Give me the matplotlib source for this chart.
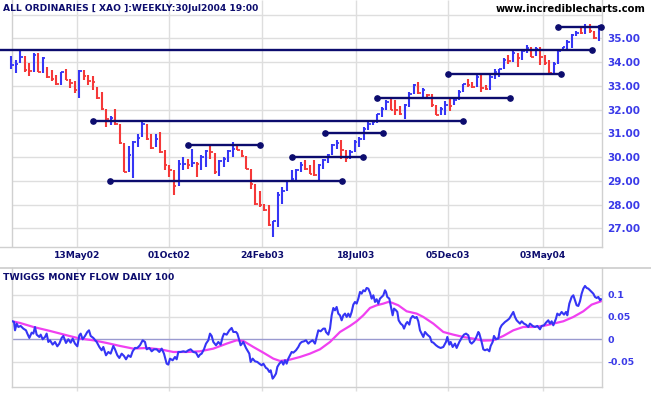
import numpy as np
import matplotlib
matplotlib.use("Agg")
import matplotlib.pyplot as plt
from matplotlib.lines import Line2D

# ---------------- data ----------------
high = [34.24, 34.10, 34.49, 34.24, 33.96, 34.37, 34.38, 34.20, 33.80, 33.68,
        33.44, 33.60, 33.72, 33.30, 33.20, 33.68, 33.65, 33.44, 33.40, 32.95,
        32.74, 32.04, 31.72, 32.04, 31.41, 30.59, 30.45, 30.66, 30.96, 31.48,
        31.38, 30.96, 30.98, 31.04, 30.28, 29.67, 29.44, 29.86, 30.00, 29.93,
        30.35, 29.79, 30.07, 30.28, 30.49, 30.17, 29.86, 30.00, 30.28, 30.63,
        30.56, 30.31, 30.03, 29.50, 28.87, 28.59, 28.03, 27.96, 27.32, 28.52,
        28.73, 29.00, 29.46, 29.50, 29.79, 29.86, 29.65, 29.86, 29.72, 29.93,
        30.14, 30.56, 30.73, 30.73, 30.28, 30.28, 30.70, 30.84, 31.27, 31.48,
        31.55, 31.83, 32.11, 32.39, 32.53, 32.39, 32.14, 32.25, 32.74, 33.07,
        33.17, 32.93, 32.67, 32.67, 32.18, 32.11, 32.35, 32.46, 32.53, 32.82,
        33.10, 33.31, 33.17, 33.52, 33.56, 33.03, 33.48, 33.73, 33.73, 34.18,
        34.32, 34.46, 34.37, 34.51, 34.72, 34.64, 34.66, 34.62, 34.29, 34.08,
        34.00, 34.53, 34.64, 34.92, 35.20, 35.30, 35.50, 35.60, 35.60, 35.30, 35.55]
low = [33.72, 33.54, 33.96, 33.58, 33.40, 33.58, 33.58, 33.55, 33.34, 33.20,
       33.05, 33.05, 33.26, 32.90, 32.71, 32.49, 33.23, 33.05, 32.84, 32.46,
       32.00, 31.27, 31.34, 31.35, 30.56, 29.36, 29.36, 29.10, 30.42, 30.84,
       30.73, 30.35, 30.42, 30.17, 29.44, 29.15, 28.42, 28.80, 29.44, 29.48,
       29.58, 29.15, 29.44, 29.60, 29.93, 29.30, 29.22, 29.58, 29.79, 30.00,
       30.28, 30.00, 29.50, 28.66, 27.96, 27.89, 27.74, 27.11, 26.65, 27.04,
       28.03, 28.59, 28.94, 28.98, 29.36, 29.44, 29.27, 29.22, 28.98, 29.50,
       29.76, 30.07, 30.35, 29.93, 29.79, 29.93, 30.21, 30.42, 30.70, 31.13,
       31.34, 31.43, 31.69, 32.00, 31.97, 31.76, 31.76, 31.62, 32.11, 32.67,
       32.64, 32.55, 32.46, 32.11, 31.76, 31.76, 31.76, 31.93, 32.18, 32.39,
       32.75, 32.96, 32.93, 32.96, 32.75, 32.82, 32.82, 33.31, 33.38, 33.73,
       33.94, 33.99, 33.80, 34.08, 34.37, 34.20, 34.25, 33.90, 33.90, 33.52,
       33.52, 33.94, 34.46, 34.57, 34.60, 35.10, 35.20, 35.20, 35.25, 34.96, 34.90]
close = [33.86, 33.93, 34.21, 33.65, 33.62, 34.30, 33.60, 34.18, 33.37, 33.30,
         33.06, 33.58, 33.26, 33.12, 32.81, 33.62, 33.41, 33.20, 33.15, 32.49,
         32.04, 31.62, 31.65, 31.40, 30.59, 29.39, 30.07, 30.63, 30.82, 31.38,
         30.76, 30.39, 30.77, 30.21, 29.65, 29.44, 28.80, 29.69, 29.72, 29.65,
         29.75, 29.70, 30.00, 30.25, 30.20, 29.39, 29.83, 29.93, 30.25, 30.35,
         30.30, 30.03, 29.50, 28.87, 28.03, 27.98, 27.77, 27.15, 27.29, 28.38,
         28.59, 28.98, 29.08, 29.44, 29.65, 29.50, 29.30, 29.25, 29.65, 29.86,
         30.07, 30.49, 30.59, 30.28, 29.97, 30.21, 30.63, 30.77, 31.20, 31.41,
         31.48, 31.80, 32.04, 32.32, 32.00, 31.98, 31.80, 32.18, 32.65, 33.03,
         32.70, 32.82, 32.63, 32.18, 31.76, 32.04, 32.18, 32.15, 32.39, 32.75,
         33.06, 33.03, 32.96, 33.38, 32.89, 32.85, 33.38, 33.59, 33.70, 34.08,
         34.04, 34.37, 34.18, 34.46, 34.60, 34.22, 34.55, 34.20, 33.98, 33.55,
         33.94, 34.46, 34.62, 34.83, 35.16, 35.25, 35.22, 35.50, 35.30, 35.00, 35.45]

date_labels = ["13May02", "01Oct02", "24Feb03", "18Jul03", "05Dec03", "03May04"]
date_pos = [14.5, 35.0, 55.5, 76.2, 96.7, 117.6]
price_ticks = [27, 28, 29, 30, 31, 32, 33, 34, 35]

# hand-drawn support / resistance lines (level, from bar, to bar)
sr_level = [34.5, 31.5, 29.0, 30.5, 30.0, 31.0, 32.5, 33.5, 35.5]
sr_start = [-2.5, 18.1, 21.8, 39.1, 62.1, 69.4, 80.9, 96.6, 120.9]
sr_end = [128.5, 99.9, 73.2, 55.0, 77.8, 82.2, 110.3, 121.6, 130.5]
sr_start_dot = [False, True, True, True, True, True, True, True, True]

# Twiggs money flow (position in weekly bars, value)
mf_x = [0.23, 0.60, 0.82, 1.19, 1.56, 2.07, 2.66, 3.25, 3.55, 3.99, 4.51, 4.88, 5.24, 5.61, 6.20,
        6.50, 6.94, 7.46, 7.82, 8.19, 8.56, 9.15, 9.67, 10.18, 10.63, 11.14, 11.51, 12.10, 12.62,
        13.13, 13.58, 14.09, 14.61, 15.05, 15.35, 15.79, 16.31, 16.82, 17.19, 17.56, 18.15, 18.89,
        19.48, 19.99, 20.36, 20.95, 21.47, 21.98, 22.57, 22.94, 23.46, 23.90, 24.42, 24.93, 25.38,
        25.89, 26.41, 26.85, 27.37, 27.88, 28.47, 29.06, 29.58, 29.95, 30.54, 31.06, 31.57, 32.16,
        32.75, 33.27, 33.78, 34.37, 34.74, 35.11, 35.70, 36.22, 36.59, 36.95, 37.47, 38.06, 38.65,
        39.17, 39.68, 40.27, 40.86, 41.38, 41.75, 42.12, 42.63, 43.08, 43.59, 43.96, 44.33, 44.70,
        45.29, 45.80, 46.32, 46.76, 47.06, 47.65, 48.24, 48.75, 49.12, 49.71, 50.01, 50.45, 50.74,
        51.33, 51.92, 52.22, 52.66, 52.96, 53.40, 53.92, 54.43, 54.88, 55.39, 55.76, 56.35, 56.65,
        57.09, 57.38, 57.82, 58.12, 58.56, 58.86, 59.30, 59.82, 60.19, 60.55, 60.92, 61.29, 61.66,
        62.03, 62.40, 62.99, 63.50, 63.87, 64.24, 64.76, 65.20, 65.72, 66.08, 66.67, 67.19, 67.56,
        67.93, 68.44, 69.03, 69.40, 69.62, 70.14, 70.51, 70.88, 71.25, 71.61, 71.98, 72.35, 72.72,
        73.09, 73.46, 73.83, 74.20, 74.56, 74.93, 75.30, 75.67, 76.04, 76.41, 76.78, 77.15, 77.51,
        77.88, 78.25, 78.62, 78.99, 79.36, 79.73, 80.10, 80.47, 80.83, 81.20, 81.57, 81.94, 82.31,
        82.68, 82.90, 83.19, 83.64, 83.93, 84.37, 84.67, 85.11, 85.41, 85.70, 86.15, 86.59, 86.89,
        87.33, 87.62, 88.06, 88.36, 88.80, 89.32, 89.68, 90.05, 90.42, 90.79, 91.16, 91.53, 92.04,
        92.63, 93.00, 93.37, 93.96, 94.48, 94.99, 95.58, 96.17, 96.47, 96.91, 97.21, 97.65, 98.17,
        98.53, 99.12, 99.64, 100.15, 100.60, 101.11, 101.48, 101.85, 102.37, 102.81, 103.33, 103.55,
        104.06, 104.43, 104.80, 105.32, 105.76, 106.06, 106.50, 106.79, 107.24, 107.75, 108.12,
        108.49, 108.86, 109.23, 109.74, 110.18, 110.70, 111.07, 111.44, 111.81, 112.18, 112.54,
        112.91, 113.43, 113.87, 114.39, 114.76, 115.35, 115.86, 116.38, 116.97, 117.34, 117.86,
        118.30, 118.81, 119.18, 119.55, 119.92, 120.51, 120.80, 121.25, 121.76, 122.28, 122.72,
        123.02, 123.46, 123.98, 124.35, 124.71, 125.08, 125.45, 125.82, 126.19, 126.56, 126.93,
        127.30, 127.67, 128.03, 128.40, 128.77, 129.14, 129.51, 129.88, 130.25, 130.47]
mf_y = [0.0403, 0.0388, 0.0201, 0.0351, 0.0276, 0.0299, 0.0239, 0.0201, 0.0127, 0.0030, 0.0149,
        0.0127, 0.0276, 0.0104, 0.0052, 0.0104, 0.0, 0.0052, 0.0127, -0.0060, -0.0022, -0.0119,
        -0.0060, -0.0157, -0.0097, 0.0030, 0.0075, -0.0082, 0.0, -0.0075, 0.0015, -0.0097, -0.0157,
        0.0090, 0.0127, 0.0, 0.0075, 0.0164, 0.0201, 0.0075, 0.0030, -0.0060, -0.0172, -0.0246,
        -0.0172, -0.0358, -0.0284, -0.0321, -0.0149, -0.0224, -0.0358, -0.0418, -0.0321, -0.0373,
        -0.0448, -0.0358, -0.0396, -0.0269, -0.0194, -0.0194, -0.0134, -0.0022, -0.0060, -0.0224,
        -0.0194, -0.0269, -0.0224, -0.0224, -0.0284, -0.0209, -0.0321, -0.0545, -0.0567, -0.0433,
        -0.0470, -0.0396, -0.0448, -0.0284, -0.0284, -0.0269, -0.0284, -0.0246, -0.0224, -0.0284,
        -0.0299, -0.0396, -0.0343, -0.0321, -0.0224, -0.0097, -0.0022, 0.0127, 0.0075, -0.0060,
        -0.0134, -0.0060, -0.0119, 0.0052, 0.0127, 0.0104, 0.0201, 0.0254, 0.0164, 0.0164, 0.0127,
        -0.0022, -0.0134, -0.0060, -0.0194, -0.0246, -0.0321, -0.0507, -0.0433, -0.0493, -0.0507,
        -0.0545, -0.0582, -0.0545, -0.0642, -0.0657, -0.0731, -0.0694, -0.0881, -0.0843, -0.0769,
        -0.0619, -0.0545, -0.0493, -0.0567, -0.0470, -0.0545, -0.0433, -0.0358, -0.0284, -0.0299,
        -0.0246, -0.0172, -0.0097, -0.0060, -0.0045, -0.0022, -0.0097, -0.0060, -0.0022, -0.0097,
        0.0052, 0.0201, 0.0179, 0.0239, 0.0239, 0.0164, 0.0104, 0.0239, 0.0537, 0.0701, 0.0649,
        0.0724, 0.0575, 0.0537, 0.0425, 0.0537, 0.0575, 0.0500, 0.0575, 0.0500, 0.0612, 0.0776,
        0.0836, 0.0799, 0.0910, 0.1060, 0.1022, 0.1097, 0.1075, 0.1149, 0.1134, 0.1045, 0.0910,
        0.0985, 0.0836, 0.0896, 0.0799, 0.0910, 0.0948, 0.0985, 0.1097, 0.1060, 0.0948, 0.0910,
        0.0761, 0.0537, 0.0687, 0.0649, 0.0612, 0.0425, 0.0351, 0.0313, 0.0239, 0.0351, 0.0388,
        0.0328, 0.0463, 0.0522, 0.0478, 0.0500, 0.0403, 0.0201, 0.0127, 0.0052, 0.0164, 0.0104,
        0.0052, -0.0060, -0.0075, -0.0134, -0.0172, -0.0194, -0.0172, -0.0060, 0.0052, -0.0119,
        -0.0060, -0.0172, -0.0097, -0.0194, -0.0060, 0.0030, 0.0104, 0.0127, 0.0090, -0.0060,
        -0.0097, -0.0045, 0.0030, 0.0164, 0.0127, -0.0060, -0.0224, -0.0246, -0.0224, -0.0269,
        -0.0149, -0.0060, 0.0075, 0.0, 0.0015, 0.0239, 0.0313, 0.0351, 0.0388, 0.0425, 0.0463,
        0.0552, 0.0612, 0.0500, 0.0425, 0.0388, 0.0351, 0.0403, 0.0351, 0.0328, 0.0276, 0.0351,
        0.0299, 0.0276, 0.0299, 0.0224, 0.0299, 0.0313, 0.0373, 0.0425, 0.0351, 0.0403, 0.0313,
        0.0463, 0.0575, 0.0537, 0.0612, 0.0552, 0.0612, 0.0537, 0.0799, 0.0948, 0.0985, 0.0873,
        0.0761, 0.0746, 0.0851, 0.1022, 0.1134, 0.1194, 0.1149, 0.1134, 0.1097, 0.1060, 0.1022,
        0.0948, 0.0925, 0.0948, 0.0873, 0.0896]

sig_x = [0.23, 1.92, 4.88, 8.56, 12.25, 15.20, 18.15, 21.10, 24.05, 26.99, 29.95, 32.90, 35.85,
         38.80, 41.75, 44.70, 47.65, 49.86, 51.33, 53.55, 55.76, 57.97, 59.45, 61.66, 63.87,
         66.08, 68.30, 70.51, 72.72, 74.93, 76.41, 77.88, 79.36, 80.83, 82.31, 83.41, 84.15,
         85.63, 87.47, 89.68, 91.16, 93.37, 95.58, 97.79, 100.01, 102.22, 104.43, 106.65,
         108.86, 111.07, 113.28, 115.49, 117.71, 119.92, 122.13, 124.35, 126.56, 128.40, 130.47]
sig_y = [0.0403, 0.0366, 0.0276, 0.0187, 0.0090, 0.0015, -0.0022, -0.0082, -0.0149, -0.0209,
         -0.0194, -0.0224, -0.0284, -0.0284, -0.0269, -0.0209, -0.0097, -0.0022, -0.0037,
         -0.0172, -0.0299, -0.0433, -0.0485, -0.0455, -0.0396, -0.0321, -0.0224, -0.0060,
         0.0164, 0.0299, 0.0403, 0.0537, 0.0701, 0.0761, 0.0799, 0.0836, 0.0821, 0.0761,
         0.0627, 0.0575, 0.0500, 0.0351, 0.0164, 0.0104, 0.0052, 0.0015, -0.0030, -0.0022,
         0.0075, 0.0201, 0.0276, 0.0276, 0.0299, 0.0351, 0.0403, 0.0500, 0.0627, 0.0776, 0.0851]
mf_ticks = [0.1, 0.05, 0.0, -0.05]
mf_tick_labels = ["0.1", "0.05", "0", "-0.05"]

# ---------------- style ----------------
BLUE = "#3535f5"
RED = "#f53838"
NAVY = "#0c0c6e"
MAGENTA = "#f040f0"
GRID = "#dedede"
BORDER = "#d0d0d0"
LABEL_BLUE = "#3a3ae8"
FONT = "DejaVu Sans"

W, H = 651.0, 395.0
fig = plt.figure(figsize=(6.51, 3.95), dpi=100)
fig.patch.set_facecolor("white")


def fx(px):
    return px / W


def fy(py):
    return 1 - py / H


XMIN_TOP, XMAX = -2.5, 130.58
XMIN_LOW = 0.155

# ---------------- price panel ----------------
ax = fig.add_axes([0, fy(246.5), fx(601.5), 246.5 / H])
ax.set_xlim(XMIN_TOP, XMAX)
ax.set_ylim(26.23, 36.62)
ax.set_facecolor("white")

ax.hlines(np.arange(27, 37), XMIN_LOW, XMAX, colors=GRID, lw=1.0, zorder=0)
ax.vlines(date_pos, 26.23, 36.62, colors=GRID, lw=1.0, zorder=0)
ax.axvline(XMIN_LOW, color=BORDER, lw=1.0, zorder=0)

idx = np.arange(len(close))
cols = [BLUE if i == 0 or close[i] >= close[i - 1] else RED for i in idx]
ax.vlines(idx, low, high, colors=cols, lw=1.5, zorder=3)
ax.hlines(close, idx, idx + 0.55, colors=cols, lw=1.3, zorder=3)

for lv, s, e, sd in zip(sr_level, sr_start, sr_end, sr_start_dot):
    ax.plot([s, e], [lv, lv], color=NAVY, lw=1.7, zorder=4, clip_on=False,
            solid_capstyle="butt")
    ax.plot([e], [lv], "o", color=NAVY, ms=3.8, zorder=5, clip_on=False)
    if sd:
        ax.plot([s], [lv], "o", color=NAVY, ms=3.8, zorder=5, clip_on=False)

for side in ("top", "left"):
    ax.spines[side].set_visible(False)
for side in ("right", "bottom"):
    ax.spines[side].set_color(BORDER)
    ax.spines[side].set_linewidth(1.0)

ax.yaxis.tick_right()
ax.set_yticks(price_ticks)
ax.set_yticklabels([f"{v:.2f}" for v in price_ticks])
ax.tick_params(axis="y", length=0, pad=4, labelcolor=LABEL_BLUE, labelsize=7.5)
ax.set_xticks(date_pos)
ax.set_xticklabels(date_labels)
ax.tick_params(axis="x", length=0, pad=3, labelcolor=NAVY, labelsize=6.6)
for t in ax.get_xticklabels() + ax.get_yticklabels():
    t.set_fontweight("bold")
    t.set_fontfamily(FONT)

# ---------------- money flow panel ----------------
ax2 = fig.add_axes([fx(12), fy(387), fx(601.5 - 12), (387 - 268) / H])
ax2.set_xlim(XMIN_LOW, XMAX)
ax2.set_ylim(-0.1068, 0.1596)
ax2.hlines([0.1, 0.05, -0.05], XMIN_LOW, XMAX, colors=GRID, lw=1.0, zorder=0)
ax2.vlines(date_pos, -0.1068, 0.1596, colors=GRID, lw=1.0, zorder=0)
ax2.axhline(0, color="#9a9ad0", lw=1.0, zorder=1)
ax2.plot(sig_x, sig_y, color=MAGENTA, lw=1.6, zorder=2)
ax2.plot(mf_x, mf_y, color=BLUE, lw=1.5, zorder=3)

ax2.spines["top"].set_visible(False)
for side in ("right", "bottom", "left"):
    ax2.spines[side].set_color(BORDER)
    ax2.spines[side].set_linewidth(1.0)
ax2.yaxis.tick_right()
ax2.set_yticks(mf_ticks)
ax2.set_yticklabels(mf_tick_labels)
ax2.tick_params(axis="y", length=0, pad=4, labelcolor=LABEL_BLUE, labelsize=6.8)
ax2.set_xticks(date_pos)
ax2.set_xticklabels([])
ax2.tick_params(axis="x", length=3, color=GRID, width=1.0)
for t in ax2.get_yticklabels():
    t.set_fontweight("bold")
    t.set_fontfamily(FONT)

# separator between panels
fig.add_artist(Line2D([0, 1], [fy(268), fy(268)], color="#cccccc", lw=1.2,
                      transform=fig.transFigure))

# ---------------- titles ----------------
fig.text(fx(3), fy(10.8), "ALL ORDINARIES [ XAO ]:WEEKLY:30Jul2004 19:00",
         ha="left", va="baseline", fontsize=6.6, fontweight="bold", color=NAVY,
         family=FONT)
fig.text(fx(646), fy(11.5), "www.incrediblecharts.com", ha="right", va="baseline",
         fontsize=7.2, fontweight="bold", color="black", family=FONT)
fig.text(fx(3), fy(280.3), "TWIGGS MONEY FLOW DAILY 100", ha="left", va="baseline",
         fontsize=6.7, fontweight="bold", color=NAVY, family=FONT)

fig.savefig("out.png", dpi=100, facecolor="white")
